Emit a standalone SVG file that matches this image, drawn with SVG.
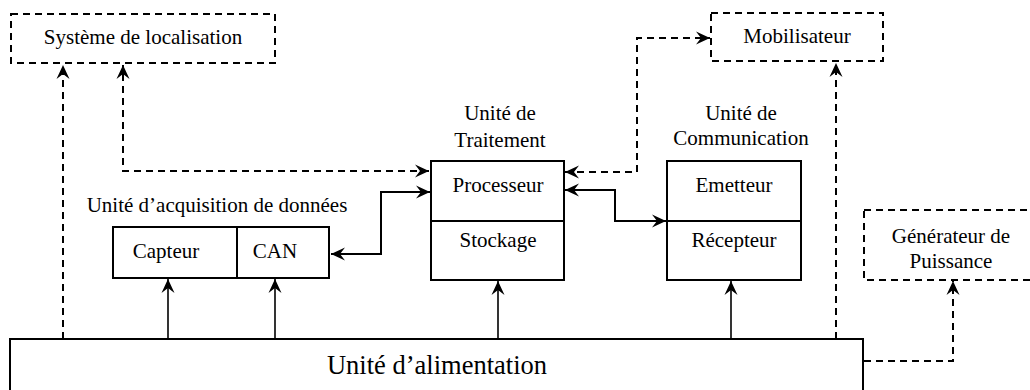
<svg xmlns="http://www.w3.org/2000/svg" width="1030" height="390" viewBox="0 0 1030 390" font-family="'Liberation Serif', 'Times New Roman', 'DejaVu Serif', serif">
  <style>
    text { fill: #000; text-anchor: middle; }
    .lbl { font-size: 21px; }
    .big { font-size: 26.5px; }
    .box { fill: #fff; stroke: #000; stroke-width: 2; }
    .ext { fill: none; stroke: #000; stroke-width: 2; stroke-dasharray: 7 5; }
    .link { fill: none; stroke: #000; stroke-width: 2; }
    .thin { fill: none; stroke: #000; stroke-width: 1.6; }
    .dash { fill: none; stroke: #000; stroke-width: 2; stroke-dasharray: 7 5; }
  </style>
  <defs>
    <marker id="head" viewBox="-14 -7 15 14" refX="0" refY="0" markerWidth="15" markerHeight="14" markerUnits="userSpaceOnUse" orient="auto-start-reverse">
      <path d="M0,0 L-14,-6.5 L-9,0 L-14,6.5 Z" fill="#000" stroke="none"/>
    </marker>
  </defs>

  <rect width="1030" height="390" fill="#fff"/>

  <!-- external systems (dashed outlines) -->
  <g id="localisation">
    <rect class="ext" x="11" y="14" width="264" height="49"/>
    <text class="lbl" x="143" y="44">Système de localisation</text>
  </g>
  <g id="mobilisateur">
    <rect class="ext" x="711" y="13" width="172" height="48"/>
    <text class="lbl" x="797" y="43">Mobilisateur</text>
  </g>
  <g id="generateur">
    <rect class="ext" x="864" y="210" width="180" height="70"/>
    <text class="lbl" x="951" y="243">Générateur de</text>
    <text class="lbl" x="951" y="268">Puissance</text>
  </g>

  <!-- acquisition unit -->
  <g id="acquisition">
    <text class="lbl" x="217" y="212">Unité d’acquisition de données</text>
    <rect class="box" x="113" y="227" width="216" height="51"/>
    <line class="link" x1="237" y1="227" x2="237" y2="278"/>
    <text class="lbl" x="166" y="258">Capteur</text>
    <text class="lbl" x="275" y="258">CAN</text>
  </g>

  <!-- processing unit -->
  <g id="traitement">
    <text class="lbl" x="500" y="120">Unité de</text>
    <text class="lbl" x="500" y="147">Traitement</text>
    <rect class="box" x="431" y="161" width="133" height="119"/>
    <line class="link" x1="431" y1="221" x2="564" y2="221"/>
    <text class="lbl" x="498" y="192">Processeur</text>
    <text class="lbl" x="498" y="247">Stockage</text>
  </g>

  <!-- communication unit -->
  <g id="communication">
    <text class="lbl" x="741" y="120">Unité de</text>
    <text class="lbl" x="741" y="145">Communication</text>
    <rect class="box" x="667" y="161" width="134" height="119"/>
    <line class="link" x1="667" y1="221" x2="801" y2="221"/>
    <text class="lbl" x="734" y="192">Emetteur</text>
    <text class="lbl" x="734" y="247">Récepteur</text>
  </g>

  <!-- power unit -->
  <g id="alimentation">
    <rect class="box" x="10" y="339" width="853" height="70"/>
    <text class="big" x="437" y="374">Unité d’alimentation</text>
  </g>

  <!-- connectors -->
  <g id="connectors">
    <!-- power supply feeds -->
    <line class="thin" x1="168" y1="339" x2="168" y2="279" marker-end="url(#head)"/>
    <line class="thin" x1="275" y1="339" x2="275" y2="279" marker-end="url(#head)"/>
    <line class="thin" x1="498" y1="339" x2="498" y2="281" marker-end="url(#head)"/>
    <line class="thin" x1="731" y1="339" x2="731" y2="281" marker-end="url(#head)"/>

    <!-- data paths -->
    <polyline class="link" points="331,254 381,254 381,192 430,192" marker-start="url(#head)" marker-end="url(#head)"/>
    <polyline class="link" points="565,190 615,190 615,221 666,221" marker-start="url(#head)" marker-end="url(#head)"/>

    <!-- optional links (dashed) -->
    <line class="dash" x1="63" y1="339" x2="63" y2="65" marker-end="url(#head)"/>
    <polyline class="dash" points="429,171 123,171 123,65" marker-start="url(#head)" marker-end="url(#head)"/>
    <polyline class="dash" points="565,172 637,172 637,38 710,38" marker-start="url(#head)" marker-end="url(#head)"/>
    <line class="dash" x1="836" y1="339" x2="836" y2="63" marker-end="url(#head)"/>
    <polyline class="dash" points="864,361 953,361 953,281" marker-end="url(#head)"/>
  </g>
</svg>
